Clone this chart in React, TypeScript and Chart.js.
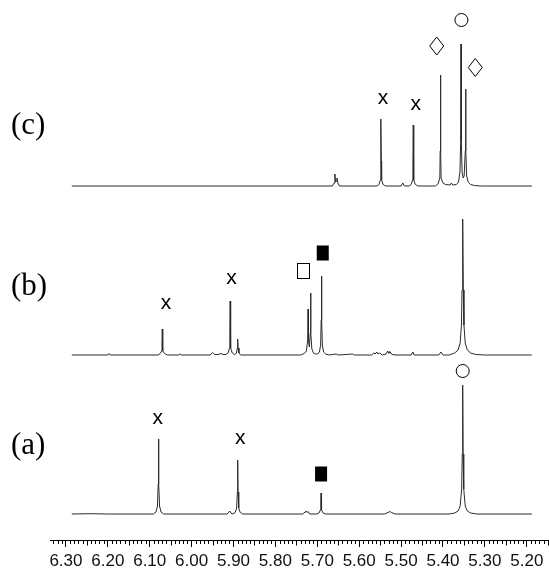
import React, { useEffect, useRef } from 'react';
import { Chart, registerables } from 'chart.js';

Chart.register(...registerables);

// ---- axis ----
const TICK_LABELS = ['6.30', '6.20', '6.10', '6.00', '5.90', '5.80', '5.70', '5.60', '5.50', '5.40', '5.30', '5.20'];
const X_MIN = 5.147;
const X_MAX = 6.338;
const Y_MAX = 540;

// ---- spectra: [ppm, intensity] ----
const SPECTRUM_A: [number, number][] = [
  [6.286, 0], [6.24, 0.3], [6.2, 0],
  [6.091, 0], [6.085, 2], [6.0815, 8], [6.0798, 30], [6.079, 75], [6.0782, 30], [6.0765, 8], [6.073, 2], [6.067, 0],
  [5.915, 0], [5.909, 3], [5.904, 0],
  [5.902, 0], [5.896, 1.5], [5.8925, 6], [5.8908, 22], [5.89, 54], [5.8892, 22], [5.8875, 6], [5.884, 1.5], [5.878, 0],
  [5.735, 0], [5.729, 2], [5.727, 3], [5.724, 1.5], [5.722, 2.5], [5.718, 0],
  [5.701, 0], [5.696, 1], [5.6925, 4], [5.6917, 10], [5.691, 21], [5.6903, 10], [5.6895, 4], [5.686, 1], [5.68, 0],
  [5.54, 0], [5.531, 1.5], [5.527, 2.5], [5.523, 1.5], [5.514, 0],
  [5.385, 0], [5.372, 1], [5.364, 3], [5.359, 8], [5.3555, 25], [5.354, 60], [5.353, 129], [5.352, 60], [5.3505, 25], [5.347, 8], [5.342, 3], [5.334, 1], [5.32, 0],
  [5.188, 0],
];

const SPECTRUM_B: [number, number][] = [
  [6.286, 0],
  [6.2, 0], [6.197, 1.5], [6.194, 0],
  [6.08, 0], [6.075, 1.5], [6.0715, 4], [6.0707, 11], [6.07, 26], [6.0693, 11], [6.0685, 4], [6.065, 1.5], [6.058, 0],
  [6.032, 0], [6.028, 1], [6.024, 0],
  [5.956, 0], [5.95, 2.5], [5.945, 0.5], [5.937, 0.5], [5.93, 1.5], [5.925, 0.5],
  [5.918, 0.5], [5.913, 2], [5.9095, 7], [5.9088, 22], [5.908, 54], [5.9072, 22], [5.9065, 7], [5.903, 2], [5.898, 0.5],
  [5.896, 0.5], [5.893, 2], [5.8908, 7], [5.89, 16], [5.8892, 7], [5.887, 2], [5.883, 0],
  [5.74, 0], [5.731, 1.5], [5.726, 4], [5.7228, 15], [5.722, 46], [5.7212, 15], [5.719, 8], [5.7168, 22], [5.716, 62], [5.7152, 22], [5.713, 6], [5.709, 2], [5.704, 1],
  [5.699, 1], [5.695, 3], [5.692, 10], [5.6908, 35], [5.69, 79], [5.6892, 35], [5.688, 10], [5.685, 3], [5.68, 1], [5.672, 0],
  [5.655, 1], [5.65, 0], [5.616, 1], [5.612, 0],
  [5.57, 0], [5.565, 2], [5.562, 1], [5.558, 3], [5.555, 1], [5.551, 2], [5.545, 0], [5.536, 1], [5.532, 4], [5.529, 1.5], [5.527, 3.5], [5.522, 0.5], [5.512, 0],
  [5.476, 0], [5.472, 3], [5.469, 0],
  [5.41, 0], [5.405, 3], [5.4, 0],
  [5.385, 0], [5.372, 2], [5.364, 5], [5.359, 12], [5.356, 30], [5.3545, 65], [5.353, 136], [5.3515, 65], [5.35, 30], [5.347, 12], [5.342, 5], [5.334, 2], [5.322, 0.5], [5.3, 0],
  [5.188, 0],
];

const SPECTRUM_C: [number, number][] = [
  [6.286, 0],
  [5.664, 0], [5.66, 3], [5.658, 12], [5.6565, 4], [5.655, 5], [5.653, 8], [5.651, 3], [5.647, 0],
  [5.558, 0], [5.553, 1.5], [5.5495, 6], [5.5488, 25], [5.548, 67], [5.5472, 25], [5.5465, 6], [5.543, 1.5], [5.537, 0],
  [5.5, 0], [5.496, 3], [5.492, 0],
  [5.481, 0], [5.476, 1.5], [5.4725, 6], [5.4718, 22], [5.471, 61], [5.4702, 22], [5.4695, 6], [5.466, 1.5], [5.46, 0],
  [5.418, 0], [5.412, 2], [5.4075, 8], [5.4068, 35], [5.406, 111], [5.4052, 35], [5.4045, 8], [5.4, 3], [5.394, 1.5],
  [5.383, 1], [5.38, 3], [5.377, 1],
  [5.368, 1.5], [5.363, 4], [5.3595, 14], [5.3578, 45], [5.357, 142], [5.3562, 45], [5.3545, 14], [5.352, 8], [5.3495, 10], [5.3468, 35], [5.346, 97], [5.3452, 35], [5.3435, 10], [5.34, 4], [5.334, 1.5], [5.325, 0.5], [5.31, 0],
  [5.188, 0],
];

const SPECTRA = [SPECTRUM_A, SPECTRUM_B, SPECTRUM_C];
const OFFSETS = [26, 185, 354];
const PANEL_LABELS = ['(a)', '(b)', '(c)'];
const PANEL_LABEL_LEVELS = [68.5, 68.5, 60.5];

type Marker = { ppm: number; level: number; sym: 'x' | 'circle' | 'diamond' | 'fsq' | 'osq' };
const MARKERS_A: Marker[] = [
  { ppm: 6.081, level: 96, sym: 'x' },
  { ppm: 5.884, level: 76, sym: 'x' },
  { ppm: 5.691, level: 40, sym: 'fsq' },
  { ppm: 5.353, level: 143, sym: 'circle' },
];
const MARKERS_B: Marker[] = [
  { ppm: 6.061, level: 51.5, sym: 'x' },
  { ppm: 5.905, level: 76.5, sym: 'x' },
  { ppm: 5.734, level: 84.5, sym: 'osq' },
  { ppm: 5.687, level: 102, sym: 'fsq' },
];
const MARKERS_C: Marker[] = [
  { ppm: 5.543, level: 88, sym: 'x' },
  { ppm: 5.465, level: 81.5, sym: 'x' },
  { ppm: 5.415, level: 140, sym: 'diamond' },
  { ppm: 5.356, level: 166, sym: 'circle' },
  { ppm: 5.323, level: 118.5, sym: 'diamond' },
];
const MARKERS = [MARKERS_A, MARKERS_B, MARKERS_C];

const MAJOR_VALUES = TICK_LABELS.map((t) => parseFloat(t));

const overlayPlugin = {
  id: 'nmrOverlay',
  afterDraw(chart: any) {
    const { ctx } = chart;
    const xs = chart.scales.x;
    const ys = chart.scales.y;
    ctx.save();
    // minor ticks
    ctx.strokeStyle = '#000';
    ctx.lineWidth = 1;
    const axisY = Math.round(xs.top) + 0.5;
    for (let i = 515; i <= 633; i++) {
      if (i % 10 === 0) continue;
      const len = i % 5 === 0 ? 5 : 3.5;
      const px = Math.round(xs.getPixelForValue(i / 100)) + 0.5;
      ctx.beginPath();
      ctx.moveTo(px, axisY);
      ctx.lineTo(px, axisY + len);
      ctx.stroke();
    }
    // panel labels
    ctx.fillStyle = '#000';
    ctx.font = '31px "Liberation Serif"';
    ctx.textAlign = 'left';
    ctx.textBaseline = 'middle';
    PANEL_LABELS.forEach((lab, i) => {
      ctx.fillText(lab, 11, ys.getPixelForValue(OFFSETS[i] + PANEL_LABEL_LEVELS[i]));
    });
    // markers
    MARKERS.forEach((list, i) => {
      list.forEach((m) => {
        const px = xs.getPixelForValue(m.ppm);
        const py = ys.getPixelForValue(OFFSETS[i] + m.level);
        ctx.strokeStyle = '#000';
        ctx.fillStyle = '#000';
        ctx.lineWidth = 1;
        if (m.sym === 'x') {
          ctx.font = '21px "Liberation Sans"';
          ctx.textAlign = 'center';
          ctx.textBaseline = 'alphabetic';
          ctx.fillText('x', px, py + 5.5);
        } else if (m.sym === 'circle') {
          ctx.beginPath();
          ctx.arc(px, py, 6.5, 0, Math.PI * 2);
          ctx.stroke();
        } else if (m.sym === 'diamond') {
          ctx.beginPath();
          ctx.moveTo(px, py - 9);
          ctx.lineTo(px + 7, py);
          ctx.lineTo(px, py + 9);
          ctx.lineTo(px - 7, py);
          ctx.closePath();
          ctx.stroke();
        } else if (m.sym === 'fsq') {
          ctx.fillRect(px - 6, py - 7.5, 12, 15);
        } else if (m.sym === 'osq') {
          ctx.strokeRect(Math.round(px - 6) + 0.5, Math.round(py - 7.5) + 0.5, 12, 15);
        }
      });
    });
    ctx.restore();
  },
};

export default function App() {
  const ref = useRef<HTMLCanvasElement | null>(null);
  useEffect(() => {
    if (!ref.current) return;
    const chart = new Chart(ref.current, {
      type: 'line',
      data: {
        datasets: SPECTRA.map((s, i) => ({
          label: PANEL_LABELS[i],
          data: s.map(([x, y]) => ({ x, y: y + OFFSETS[i] })),
          borderColor: '#2a2a2a',
          borderWidth: 1,
          pointRadius: 0,
          tension: 0,
          fill: false,
        })),
      },
      options: {
        animation: false,
        responsive: false,
        devicePixelRatio: 1,
        layout: { padding: { left: 50, right: 0, top: 0, bottom: -3.4 } },
        plugins: { legend: { display: false }, tooltip: { enabled: false } },
        scales: {
          x: {
            type: 'linear',
            reverse: true,
            min: X_MIN,
            max: X_MAX,
            afterBuildTicks: (scale: any) => {
              scale.ticks = MAJOR_VALUES.map((v) => ({ value: v }));
            },
            grid: { display: true, drawOnChartArea: false, drawTicks: true, tickLength: 7, tickColor: '#000', tickWidth: 1 },
            border: { display: true, color: '#000', width: 1 },
            ticks: {
              autoSkip: false,
              maxRotation: 0,
              padding: 4.5,
              color: '#111',
              font: { family: '"Liberation Sans", Arial, sans-serif', size: 17 },
              callback: (v: any) => {
                const idx = MAJOR_VALUES.findIndex((m) => Math.abs(m - v) < 1e-6);
                return idx >= 0 ? TICK_LABELS[idx] : '';
              },
            },
          },
          y: { type: 'linear', display: false, min: 0, max: Y_MAX },
        },
      },
      plugins: [overlayPlugin],
    } as any);
    return () => chart.destroy();
  }, []);
  return (
    <div style={{ position: 'absolute', left: 0, top: 0, width: 549, height: 573, background: '#fff' }}>
      <canvas ref={ref} width={549} height={573} />
    </div>
  );
}
